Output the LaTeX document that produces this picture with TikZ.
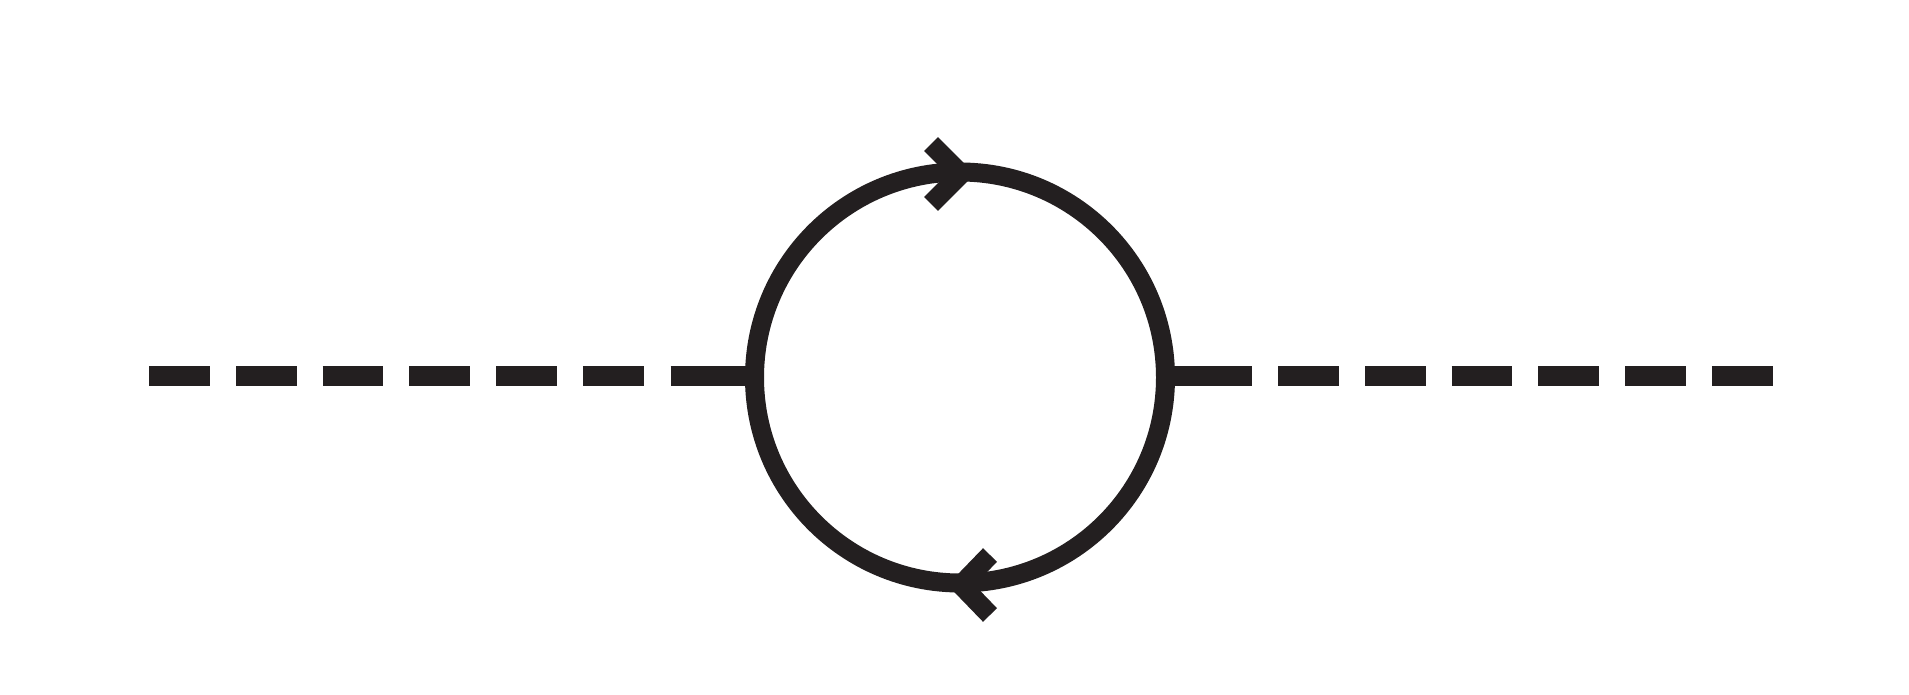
\documentclass[tikz,border=0pt]{standalone}
\definecolor{ink}{HTML}{231F20}
\begin{document}
\begin{tikzpicture}[x=1pt,y=-1pt,
  ln/.style={draw=ink,line width=20pt,line cap=butt},
  dashln/.style={ln,dash pattern=on 60.7pt off 26pt},
  chev/.style={ln,line width=19.5pt,line join=miter}]
\useasboundingbox (0,0) rectangle (1909,695);
\node[draw=ink,line width=19pt,circle,minimum size=411pt,inner sep=0pt,outer sep=0pt] (loop) at (960,377.5) {};
\coordinate (lend) at (149.3,376);
\coordinate (lstop) at (644,376);
\coordinate (lsolid) at (670.7,376);
\coordinate (rend) at (1773,376);
\coordinate (rstop) at (1278.3,376);
\coordinate (rsolid) at (1252.3,376);
% left external line
\draw[dashln] (lend) -- (lstop);
\draw[ln] (lsolid) -- (lsolid -| loop.west);
% right external line
\draw[ln] (rsolid -| loop.east) -- (rsolid);
\draw[dashln] (rstop) -- (rend);
% arrow on top (pointing right)
\draw[chev] ([shift={(-29,-28)}]loop.north) -- ([shift={(1,2)}]loop.north) -- ([shift={(-29,32)}]loop.north);
% arrow on bottom (pointing left)
\draw[chev] ([shift={(30,-28)}]loop.south) -- ([shift={(1,2)}]loop.south) -- ([shift={(30,32)}]loop.south);
\end{tikzpicture}
\end{document}
